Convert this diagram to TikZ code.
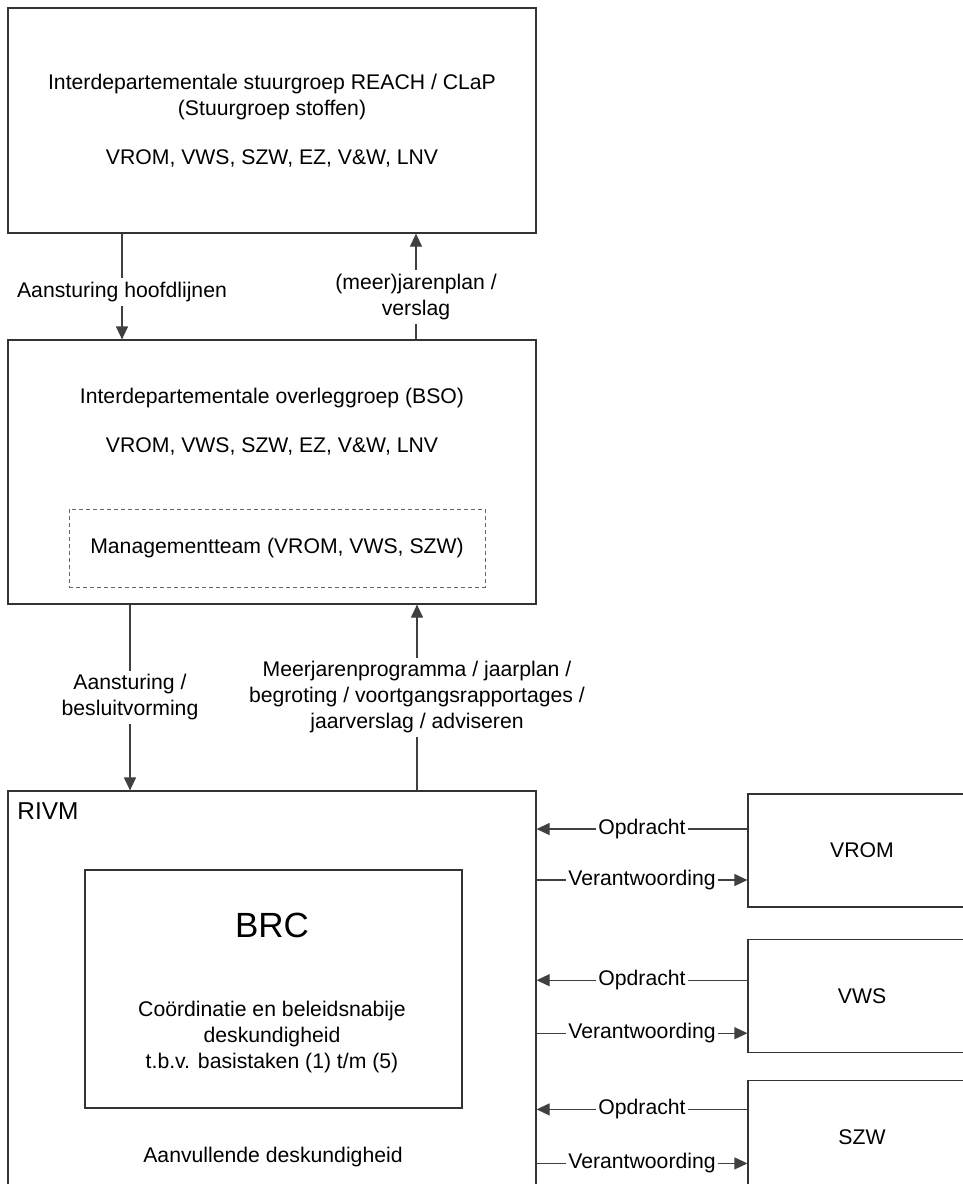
\documentclass[tikz,border=0pt]{standalone}
\usepackage{fontspec}
\setmainfont{Liberation Sans}
\usetikzlibrary{
  positioning,
  arrows.meta
}
\tikzset{
  >={Triangle[length=6.5pt,width=6pt]},
  every node/.style={font=\fontsize{10.6}{13}\selectfont},
  blok/.style={draw=black!80, line width=0.6pt, rectangle, inner sep=0pt, align=center},
  pijl/.style={->, draw=black!75, line width=0.6pt},
  lbl/.style={fill=white, align=center, inner sep=2pt},
  hlbl/.style={fill=white, inner sep=1pt}
}

\begin{document}
\begin{tikzpicture}[x=0.5pt,y=-0.5pt]
    \useasboundingbox (0,0) rectangle (963,1184);
    \clip (0,0) rectangle (963,1184);
    % overleg
    \node[blok, minimum width=264pt, minimum height=112.5pt] (stuurgroep) at (272,120.5)
      {Interdepartementale stuurgroep REACH / CLaP\\(Stuurgroep stoffen)\\[11.5pt]VROM, VWS, SZW, EZ, V\&W, LNV};
    \node[blok, minimum width=264pt, minimum height=132pt] (overleg) at (272,472) {};
    \node[align=center] (overlegtxt) at (272,421.5) {Interdepartementale overleggroep (BSO)\\[11.5pt]VROM, VWS, SZW, EZ, V\&W, LNV};
    \node[blok, dashed, draw=black!60, line width=0.4pt, dash pattern=on 2pt off 1.5pt,
      minimum width=208pt, minimum height=39pt] (mteam) at (277,548) {Managementteam (VROM, VWS, SZW)};
    % RIVM
    \node[blok, minimum width=264pt, minimum height=204.5pt] (rivm) at (272,995.5) {};
    \node[font=\fontsize{12.2}{14}\selectfont, anchor=base west, inner sep=0pt] (rivmtxt) at (17,819) {RIVM};
    \node[blok, minimum width=188.5pt, minimum height=119pt] (brc) at (273.5,989) {};
    \node[font=\fontsize{17.5}{20}\selectfont] (brctxt) at (272,925) {BRC};
    \node[align=center] (brcomschr) at (272,1037) {Coördinatie en beleidsnabije\\deskundigheid\\t.b.v. basistaken (1) t/m (5)};
    \node (aanvul) at (273,1157) {Aanvullende deskundigheid};
    % ministeries
    \node[blok, minimum width=114pt, minimum height=56.5pt] (vrom) at (862,850.5) {VROM};
    \node[blok, minimum width=114pt, minimum height=56.5pt, below=15.5pt of vrom] (vws) {VWS};
    \node[blok, minimum width=114pt, minimum height=56.5pt, below=13.5pt of vws] (szw) {SZW};
    % verbindingen
    \draw[pijl] ([xshift=-75pt]stuurgroep.south) -- ([xshift=-75pt]overleg.north)
      node[lbl, pos=0.55] {Aansturing hoofdlijnen};
    \draw[pijl] ([xshift=72pt]overleg.north) -- ([xshift=72pt]stuurgroep.south)
      node[lbl, pos=0.4] {(meer)jarenplan /\\verslag};
    \draw[pijl] ([xshift=-71pt]overleg.south) -- ([xshift=-71pt]rivm.north)
      node[lbl, midway] {Aansturing /\\besluitvorming};
    \draw[pijl] ([xshift=72.5pt]rivm.north) -- ([xshift=72.5pt]overleg.south)
      node[lbl, midway] {Meerjarenprogramma / jaarplan /\\begroting / voortgangsrapportages /\\jaarverslag / adviseren};
    \foreach \doel/\op/\ver in {vrom/10.75/-14.75, vws/7.75/-18.75, szw/13.75/-13.25} {
      \coordinate (op\doel) at ([yshift=\op pt]\doel.west);
      \coordinate (ver\doel) at ([yshift=\ver pt]\doel.west);
      \draw[pijl] (op\doel) -- (op\doel -| rivm.east) node[hlbl, midway] {Opdracht};
      \draw[pijl] (ver\doel -| rivm.east) -- (ver\doel) node[hlbl, midway] {Verantwoording};
    }
\end{tikzpicture}
\end{document}
